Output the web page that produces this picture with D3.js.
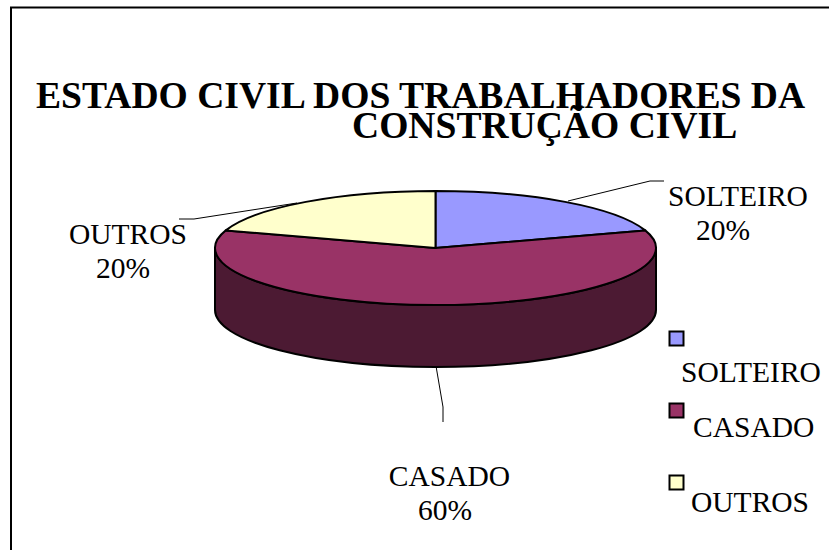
<!DOCTYPE html>
<html>
<head>
<meta charset="utf-8">
<script src="https://cdnjs.cloudflare.com/ajax/libs/d3/7.8.5/d3.min.js"></script>
<style>
html,body{margin:0;padding:0;background:#fff}
svg{display:block}
text{font-family:"Liberation Serif",serif;fill:#000}
</style>
</head>
<body>
<script>
const categories = ["SOLTEIRO", "CASADO", "OUTROS"];
const values = [20, 60, 20];
const colours = ["#9999FF", "#993366", "#FFFFCC"];
const sideColour = "#4C1A33";
const titleLines = ["ESTADO CIVIL DOS TRABALHADORES DA", "CONSTRUÇÃO CIVIL"];
const percentLabels = ["20%", "60%", "20%"];

const W = 829, H = 550;
const svg = d3.select("body").append("svg").attr("width", W).attr("height", H);

// chart frame (right and bottom edges fall outside the picture)
svg.append("path").attr("d", `M11,${H}V7.5H${W}`).attr("fill", "none").attr("stroke", "#000").attr("stroke-width", 2);

// title
const titlePos = [{x: 36, y: 108}, {x: 352, y: 138}];
svg.selectAll("text.title").data(titleLines).join("text")
  .attr("class", "title")
  .attr("x", (d, i) => titlePos[i].x).attr("y", (d, i) => titlePos[i].y)
  .attr("font-size", 37.6).attr("font-weight", "bold")
  .text(d => d);

// 3D pie
const cx = 435.5, cy = 248, rx = 220.5, ry = 57, depth = 62;
const pie = d3.pie().sort(null).value(d => d)(values);
const arc = d3.arc().innerRadius(0).outerRadius(rx);
const g = svg.append("g").attr("transform", `translate(${cx},${cy})`);

// side wall: the visible front of the rim, between the disc's widest points
g.append("path")
  .attr("d", `M${-rx},0V${depth}A${rx},${ry} 0 0 0 ${rx},${depth}V0A${rx},${ry} 0 0 1 ${-rx},0Z`)
  .attr("fill", sideColour).attr("stroke", "#000").attr("stroke-width", 2).attr("stroke-linejoin", "round");

g.selectAll("path.slice").data(pie).join("path")
  .attr("class", "slice")
  .attr("d", arc)
  .attr("transform", `scale(1,${ry / rx})`)
  .attr("vector-effect", "non-scaling-stroke")
  .attr("fill", (d, i) => colours[i])
  .attr("stroke", "#000").attr("stroke-width", 2).attr("stroke-linejoin", "round");

// leader lines
const leaders = [
  [[568, 201], [650, 181], [664, 181]],
  [[436, 366], [443, 407], [443, 422]],
  [[297, 203], [194, 219], [179, 219]]
];
svg.selectAll("path.leader").data(leaders).join("path")
  .attr("class", "leader")
  .attr("d", d3.line())
  .attr("fill", "none").attr("stroke", "#000").attr("stroke-width", 1);

// data labels
const labelPos = [
  {x: 738, y: 206, y2: 240, x2: 723},
  {x: 449.5, y: 486, y2: 520, x2: 445},
  {x: 128, y: 244, y2: 278, x2: 123}
];
const labels = svg.selectAll("g.label").data(categories).join("g").attr("class", "label");
labels.append("text")
  .attr("x", (d, i) => labelPos[i].x).attr("y", (d, i) => labelPos[i].y)
  .attr("text-anchor", "middle").attr("font-size", 29.5).text(d => d);
labels.append("text")
  .attr("x", (d, i) => labelPos[i].x2).attr("y", (d, i) => labelPos[i].y2)
  .attr("text-anchor", "middle").attr("font-size", 29.5).text((d, i) => percentLabels[i]);

// legend
const swatchY = d3.scalePoint().domain(categories).range([331.5, 475.5]);
const legendText = [{x: 681, y: 382}, {x: 693, y: 437}, {x: 691, y: 512}];
const legend = svg.selectAll("g.legend").data(categories).join("g").attr("class", "legend");
legend.append("rect")
  .attr("x", 669.5).attr("y", d => swatchY(d))
  .attr("width", 14).attr("height", 14)
  .attr("fill", (d, i) => colours[i]).attr("stroke", "#000").attr("stroke-width", 2);
legend.append("text")
  .attr("x", (d, i) => legendText[i].x).attr("y", (d, i) => legendText[i].y)
  .attr("font-size", 29.5).text(d => d);
</script>
</body>
</html>
